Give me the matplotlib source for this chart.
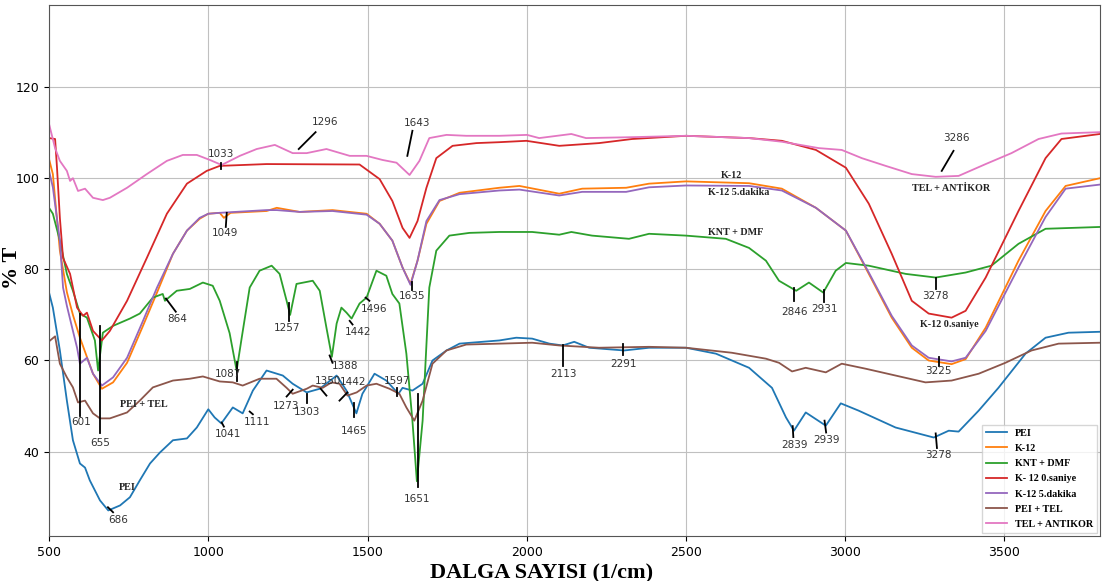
import matplotlib.pyplot as plt

# FTIR spectra: wavenumber (1/cm) vs transmittance (%)
pei_x = [500, 512, 534, 556, 575, 597, 613, 628, 660, 686, 723, 754, 785, 817, 848, 889,
         933, 964, 1000, 1020, 1041, 1077, 1108, 1140, 1183, 1234, 1265, 1309, 1350, 1403,
         1434, 1465, 1484, 1522, 1559, 1597, 1610, 1641, 1673, 1704, 1748, 1789, 1914, 1967,
         2017, 2071, 2113, 2149, 2196, 2306, 2384, 2500, 2594, 2698, 2770, 2814, 2839, 2876,
         2939, 2986, 3042, 3158, 3278, 3325, 3356, 3419, 3481, 3566, 3629, 3701, 3800]
pei_y = [74.9, 71.6, 62.2, 51.2, 42.5, 37.4, 36.5, 33.7, 29.3, 27.1, 28.2, 30.0, 33.7, 37.4,
         39.8, 42.5, 42.9, 45.3, 49.3, 47.5, 46.2, 49.7, 48.4, 53.4, 57.8, 56.7, 54.9, 53.0,
         53.8, 56.7, 53.4, 48.4, 52.7, 57.1, 55.6, 52.7, 54.0, 53.4, 54.9, 60.0, 62.2, 63.7,
         64.4, 65.0, 64.8, 63.7, 63.3, 64.1, 62.8, 62.2, 62.8, 62.8, 61.5, 58.4, 54.0, 47.5,
         44.6, 48.6, 45.7, 50.6, 49.0, 45.3, 43.1, 44.6, 44.4, 49.0, 54.0, 61.5, 65.0, 66.1, 66.3]

k12_x = [500, 512, 534, 556, 575, 597, 638, 666, 701, 745, 795, 839, 889, 933, 973, 1000,
         1036, 1049, 1070, 1183, 1215, 1287, 1390, 1497, 1538, 1578, 1610, 1635, 1657, 1685,
         1726, 1789, 1914, 1977, 2102, 2174, 2312, 2384, 2500, 2698, 2801, 2908, 3002, 3074,
         3146, 3209, 3262, 3334, 3378, 3441, 3544, 3629, 3692, 3800]
k12_y = [104.2, 100.9, 84.1, 75.0, 70.0, 65.0, 57.1, 53.8, 55.2, 59.5, 67.6, 74.9, 83.4, 88.5,
         91.1, 92.2, 92.4, 91.3, 92.4, 92.8, 93.5, 92.6, 93.0, 92.2, 90.0, 86.3, 80.4, 76.8,
         81.9, 90.0, 95.0, 96.8, 97.9, 98.3, 96.6, 97.7, 97.9, 98.8, 99.3, 98.9, 97.7, 93.5,
         88.5, 79.0, 69.4, 62.8, 60.0, 59.2, 60.3, 67.2, 81.9, 92.8, 98.3, 100.0]

knt_x = [500, 512, 534, 556, 575, 597, 619, 644, 654, 669, 701, 754, 785, 826, 857, 864, 901,
         942, 983, 1014, 1036, 1067, 1089, 1105, 1130, 1161, 1199, 1224, 1246, 1257, 1277,
         1328, 1350, 1371, 1388, 1403, 1418, 1434, 1450, 1475, 1497, 1528, 1559, 1578, 1600,
         1622, 1641, 1655, 1673, 1694, 1716, 1757, 1820, 1914, 2017, 2102, 2140, 2205, 2321,
         2384, 2500, 2625, 2698, 2751, 2792, 2846, 2886, 2931, 2970, 3002, 3074, 3190, 3284,
         3378, 3459, 3544, 3629, 3800]
knt_y = [93.5, 92.2, 86.3, 79.0, 75.3, 70.3, 69.4, 64.4, 57.8, 66.1, 67.6, 69.2, 70.3, 73.8,
         74.6, 73.1, 75.3, 75.7, 77.1, 76.4, 73.1, 66.0, 57.8, 65.0, 76.0, 79.7, 80.8, 79.0,
         73.1, 70.0, 76.8, 77.5, 75.3, 67.2, 60.8, 68.1, 71.6, 70.5, 69.2, 72.5, 73.8, 79.7,
         78.6, 74.6, 72.5, 61.5, 46.8, 33.5, 46.8, 76.0, 84.1, 87.4, 88.0, 88.2, 88.2, 87.6,
         88.2, 87.4, 86.7, 87.8, 87.4, 86.7, 84.7, 81.9, 77.5, 75.3, 77.1, 74.9, 79.7, 81.4,
         80.8, 79.0, 78.2, 79.3, 80.8, 85.6, 88.9, 89.3]

k12_0s_x = [500, 519, 525, 534, 544, 566, 588, 607, 619, 638, 666, 691, 745, 807, 870, 933,
            995, 1036, 1183, 1475, 1538, 1578, 1610, 1632, 1657, 1685, 1716, 1767, 1842, 1914,
            1999, 2102, 2227, 2331, 2500, 2698, 2801, 2908, 3002, 3074, 3146, 3209, 3262, 3334,
            3378, 3441, 3544, 3629, 3679, 3800]
k12_0s_y = [108.8, 108.6, 102.3, 91.3, 82.5, 79.0, 71.6, 69.8, 70.5, 66.5, 64.4, 66.5, 73.1,
            82.5, 92.2, 98.8, 101.6, 102.7, 103.1, 103.0, 99.8, 95.0, 89.1, 86.9, 90.6, 97.9,
            104.4, 107.1, 107.7, 107.9, 108.2, 107.1, 107.7, 108.6, 109.3, 108.8, 108.2, 106.2,
            102.3, 94.4, 83.4, 73.1, 70.3, 69.4, 70.9, 78.2, 92.8, 104.4, 108.6, 109.7]

k12_5d_x = [500, 512, 534, 544, 556, 575, 588, 597, 619, 638, 666, 701, 745, 795, 839, 889,
            933, 973, 1000, 1036, 1183, 1215, 1287, 1390, 1497, 1538, 1578, 1610, 1635, 1657,
            1685, 1726, 1789, 1914, 1977, 2102, 2174, 2312, 2384, 2500, 2698, 2801, 2908, 3002,
            3074, 3146, 3209, 3262, 3334, 3378, 3441, 3544, 3629, 3692, 3800]
k12_5d_y = [101.6, 98.0, 86.3, 76.0, 72.0, 66.5, 62.8, 59.3, 60.6, 57.1, 54.5, 56.3, 60.6,
            68.7, 76.0, 83.4, 88.5, 91.3, 92.2, 92.4, 93.0, 93.0, 92.6, 92.8, 92.0, 90.0, 86.3,
            80.4, 76.6, 81.9, 90.6, 95.2, 96.5, 97.3, 97.5, 96.2, 97.0, 97.0, 98.0, 98.4, 98.3,
            97.3, 93.5, 88.5, 79.3, 69.8, 63.3, 60.6, 59.8, 60.6, 66.5, 80.4, 91.5, 97.7, 98.6]

pei_tel_x = [500, 519, 534, 556, 575, 591, 613, 638, 660, 691, 745, 785, 826, 889, 942, 983,
             1036, 1077, 1108, 1161, 1214, 1246, 1265, 1309, 1328, 1359, 1387, 1412, 1437, 1466,
             1497, 1528, 1569, 1600, 1622, 1647, 1673, 1704, 1748, 1810, 1914, 2017, 2102, 2227,
             2384, 2500, 2644, 2751, 2792, 2833, 2876, 2939, 2989, 3064, 3158, 3252, 3334, 3419,
             3503, 3585, 3670, 3800]
pei_tel_y = [64.2, 65.3, 59.3, 56.3, 54.1, 50.8, 51.2, 48.4, 47.3, 47.3, 48.6, 51.2, 54.1,
             55.6, 56.0, 56.5, 55.4, 55.2, 54.5, 56.0, 56.0, 54.0, 52.7, 53.8, 54.5, 54.0, 55.2,
             54.9, 52.3, 53.0, 54.5, 54.9, 53.8, 52.7, 49.7, 46.8, 51.2, 59.3, 62.2, 63.5, 63.7,
             63.9, 63.3, 62.8, 63.0, 62.8, 61.7, 60.4, 59.5, 57.6, 58.4, 57.4, 59.3, 58.2, 56.7,
             55.2, 55.6, 57.1, 59.5, 62.2, 63.7, 63.9]

tel_ab_x = [500, 519, 534, 556, 566, 575, 591, 613, 638, 669, 691, 745, 807, 870, 920, 964,
            1005, 1042, 1099, 1152, 1209, 1265, 1309, 1371, 1444, 1497, 1547, 1591, 1632, 1663,
            1694, 1748, 1810, 1914, 2001, 2039, 2140, 2186, 2331, 2500, 2698, 2801, 2917, 2989,
            3052, 3127, 3209, 3284, 3356, 3441, 3522, 3607, 3679, 3800]
tel_ab_y = [111.9, 106.6, 103.8, 101.6, 99.4, 100.0, 97.2, 97.7, 95.7, 95.2, 95.7, 97.9,
            100.9, 103.8, 105.1, 105.1, 104.0, 102.9, 104.9, 106.4, 107.3, 105.5, 105.5, 106.4,
            104.9, 104.9, 104.0, 103.4, 100.7, 103.8, 108.8, 109.5, 109.3, 109.3, 109.5, 108.8,
            109.7, 108.8, 109.0, 109.3, 108.8, 108.0, 106.6, 106.2, 104.4, 102.7, 100.9, 100.3,
            100.5, 103.1, 105.5, 108.6, 109.8, 110.1]

series = [
    ("PEI", pei_x, pei_y),
    ("K-12", k12_x, k12_y),
    ("KNT + DMF", knt_x, knt_y),
    ("K- 12 0.saniye", k12_0s_x, k12_0s_y),
    ("K-12 5.dakika", k12_5d_x, k12_5d_y),
    ("PEI + TEL", pei_tel_x, pei_tel_y),
    ("TEL + ANTIKOR", tel_ab_x, tel_ab_y),
]

# peak marks: label, tick start, tick end, label position
peaks = [
    ("1296", (1284, 106.4), (1337, 110.1), (1368, 112.3)),
    ("1033", (1039, 103.4), (1039, 102.0), (1039, 105.3)),
    ("1049", (1055, 89.3), (1058, 92.4), (1052, 88.0)),
    ("1643", (1641, 110.4), (1625, 104.9), (1657, 112.2)),
    ("1635", (1641, 77.3), (1641, 75.5), (1641, 74.2)),
    ("3286", (3340, 106.0), (3303, 101.6), (3350, 108.8)),
    ("3278", (3284, 78.0), (3284, 75.7), (3284, 74.2)),
    ("2846", (2839, 76.0), (2839, 73.1), (2842, 70.7)),
    ("2931", (2933, 75.5), (2933, 72.9), (2936, 71.2)),
    ("3225", (3293, 60.8), (3293, 58.7), (3293, 57.6)),
    ("2113", (2115, 63.5), (2115, 58.9), (2115, 57.1)),
    ("2291", (2303, 63.7), (2303, 61.3), (2303, 59.3)),
    ("2839", (2835, 45.6), (2837, 43.2), (2842, 41.5)),
    ("2939", (2935, 46.8), (2940, 44.2), (2942, 42.6)),
    ("3278", (3284, 44.0), (3288, 40.8), (3293, 39.2)),
    ("1651", (1657, 52.7), (1657, 32.2), (1654, 29.6)),
    ("1597", (1594, 54.0), (1594, 52.3), (1594, 55.4)),
    ("1442", (1412, 51.2), (1437, 53.0), (1456, 55.2)),
    ("1465", (1459, 50.6), (1459, 47.5), (1459, 44.6)),
    ("1350", (1353, 53.8), (1371, 52.3), (1375, 55.6)),
    ("1303", (1309, 52.7), (1309, 50.6), (1309, 48.6)),
    ("1273", (1246, 52.1), (1265, 53.6), (1243, 50.0)),
    ("1111", (1130, 48.8), (1140, 48.2), (1152, 46.6)),
    ("1041", (1042, 46.4), (1049, 45.5), (1061, 43.8)),
    ("1087", (1089, 59.6), (1089, 55.6), (1061, 57.1)),
    ("1257", (1252, 72.7), (1252, 68.7), (1246, 67.2)),
    ("1388", (1381, 61.1), (1390, 59.5), (1428, 58.7)),
    ("1442", (1444, 68.7), (1453, 67.9), (1469, 66.2)),
    ("1496", (1494, 73.8), (1506, 73.1), (1519, 71.4)),
    ("864", (867, 73.6), (898, 70.7), (901, 69.0)),
    ("601", (597, 70.3), (597, 47.9), (600, 46.4)),
    ("655", (660, 67.6), (660, 44.0), (660, 42.0)),
    ("686", (685, 27.8), (701, 26.7), (716, 24.9)),
]

curve_names = [
    ("K-12", (2644, 100.5)),
    ("K-12 5.dakika", (2666, 96.8)),
    ("KNT + DMF", (2657, 88.0)),
    ("K-12 0.saniye", (3328, 67.9)),
    ("TEL + ANTİKOR", (3331, 97.7)),
    ("PEI + TEL", (798, 50.3)),
    ("PEI", (745, 32.2)),
]

serif = "Liberation Serif"

fig = plt.figure(figsize=(11.02, 5.81), dpi=100)
ax = fig.add_axes([0.0445, 0.0775, 0.9537, 0.9139])

for name, xs, ys in series:
    ax.plot(xs, ys, lw=1.3, label=name)

for txt, p0, p1, pt in peaks:
    ax.plot([p0[0], p1[0]], [p0[1], p1[1]], color="black", lw=1.3)
    ax.text(pt[0], pt[1], txt, fontsize=7.5, color="#333333", ha="center", va="center")

for txt, pt in curve_names:
    ax.text(pt[0], pt[1], txt, fontsize=7.3, family=serif, weight="bold",
            color="#222222", ha="center", va="center")

ax.set_xlim(500, 3800)
ax.set_ylim(21.5, 138)
ax.set_xticks([500, 1000, 1500, 2000, 2500, 3000, 3500])
ax.set_yticks([40, 60, 80, 100, 120])
ax.tick_params(labelsize=9)
ax.grid(True, color="#c0c0c0")
for sp in ax.spines.values():
    sp.set_color("#555555")

ax.set_xlabel("DALGA SAYISI (1/cm)", fontsize=16, family=serif, weight="bold")
ax.set_ylabel("% T", fontsize=16, family=serif, weight="bold")
ax.xaxis.set_label_coords(0.469, -0.051)
ax.yaxis.set_label_coords(-0.026, 0.505)

ax.legend(loc="lower right", prop={"family": serif, "weight": "bold", "size": 7.3},
          borderaxespad=0.3, labelspacing=0.6, fancybox=False)

fig.savefig("out.png", dpi=100)
